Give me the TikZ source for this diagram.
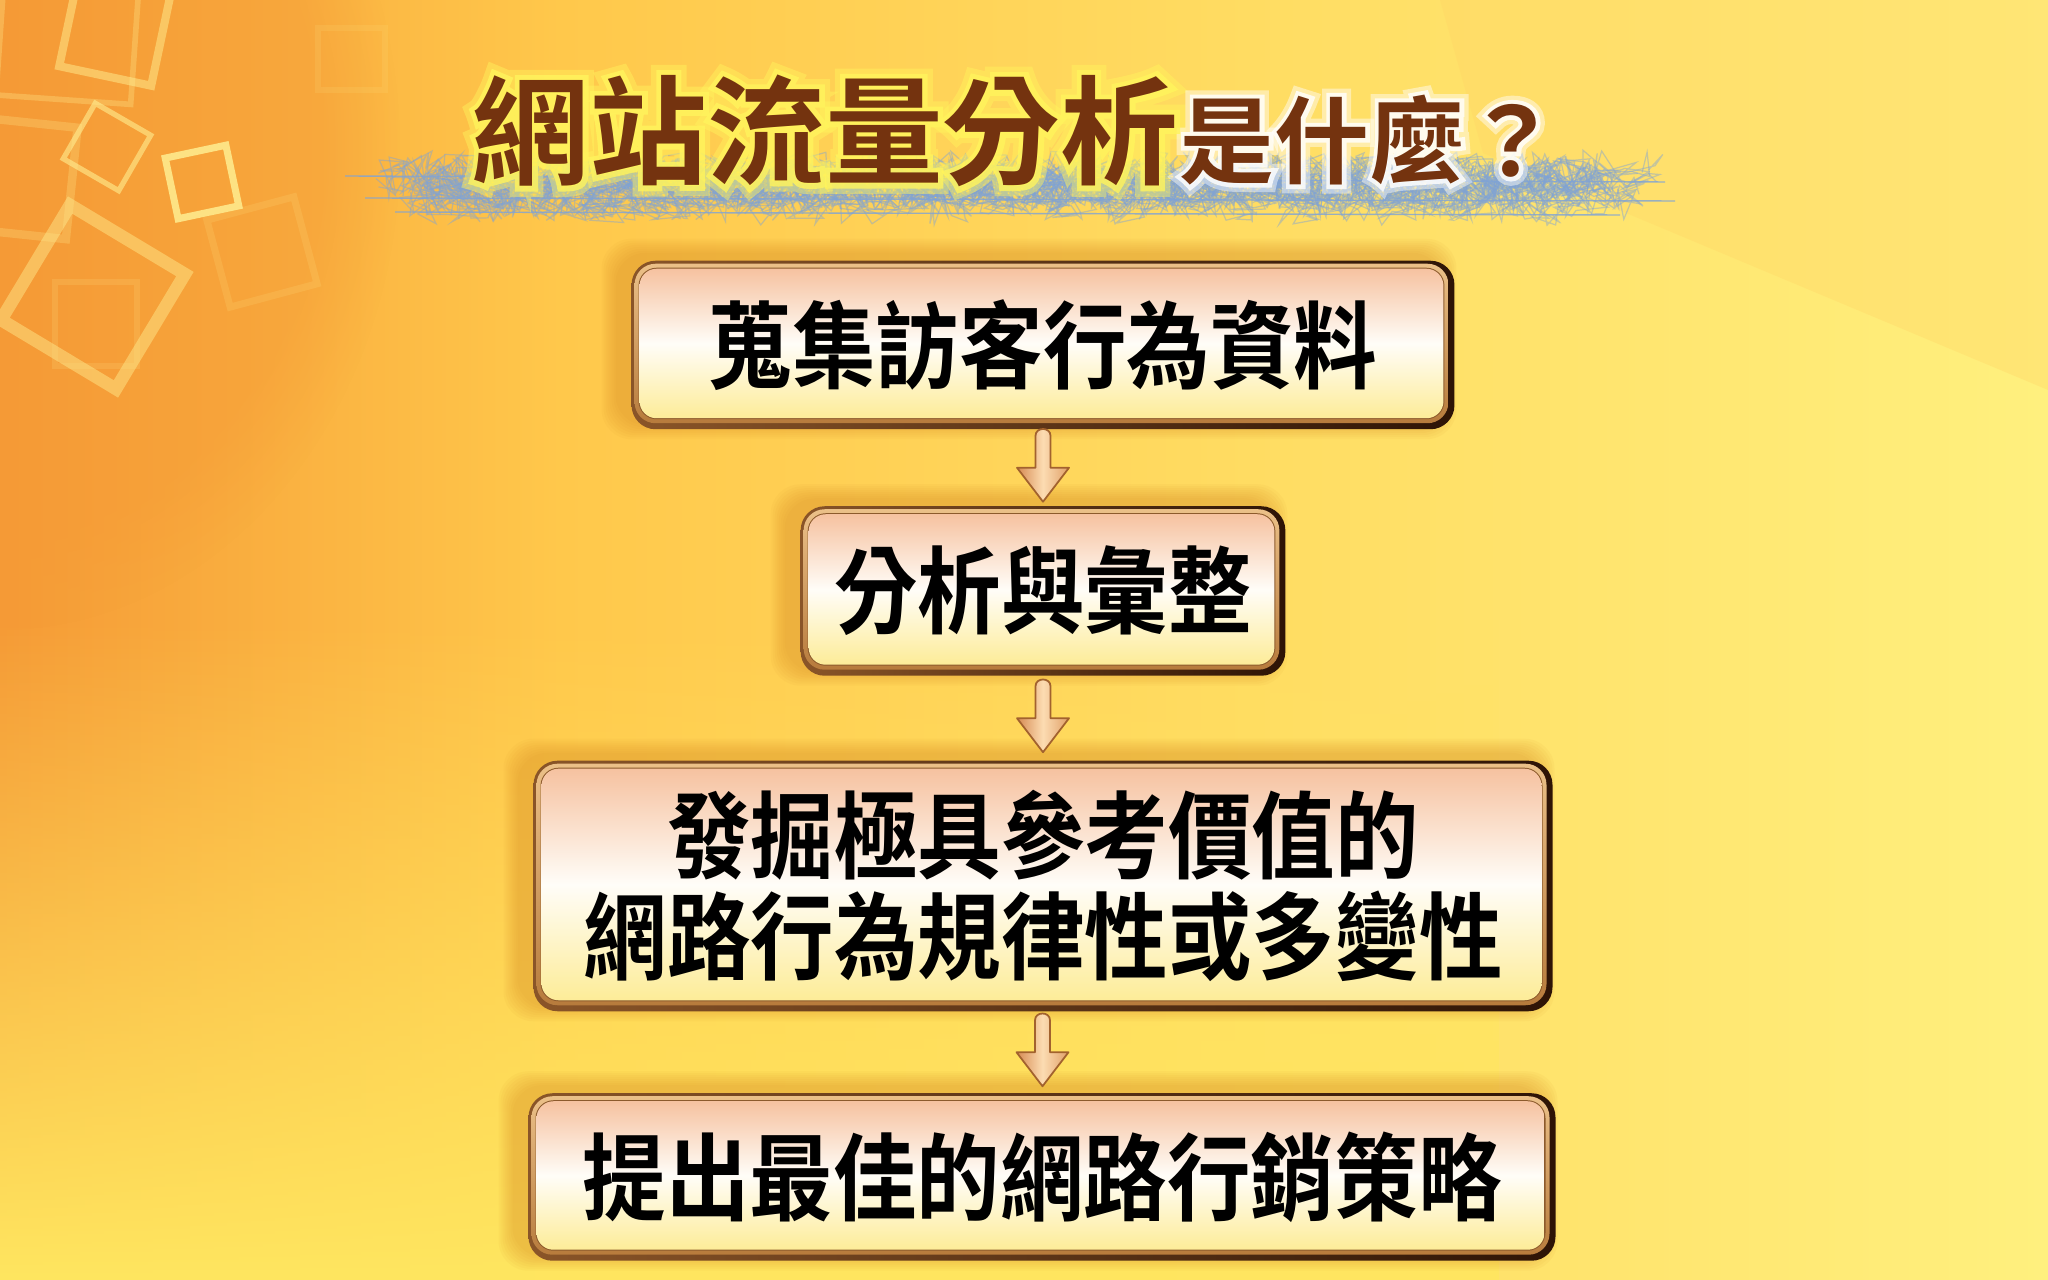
\documentclass[tikz,border=0pt]{standalone}
\usepackage{fontspec}
\newfontfamily\cjkbox[FakeStretch=0.88]{Noto Sans CJK TC Bold}
\newfontfamily\cjkttl{Noto Sans CJK TC Bold}
\newfontfamily\cjkglowA[FakeBold=18]{Noto Sans CJK TC Bold}
\newfontfamily\cjkglowB[FakeBold=9]{Noto Sans CJK TC Bold}
\usetikzlibrary{calc,fadings,decorations.pathmorphing}
\pgfdeclarelayer{bg}
\pgfdeclarelayer{frame}
\pgfsetlayers{bg,frame,main}
\definecolor{bgA}{HTML}{F59A36}
\definecolor{bgB}{HTML}{FFC84B}
\definecolor{bgC}{HTML}{FFDC62}
\definecolor{bgD}{HTML}{FFF07E}
\definecolor{fadeY}{HTML}{FFE660}
\definecolor{trC}{HTML}{FFD565}
\definecolor{sqc}{HTML}{FFEE90}
\definecolor{scribc}{HTML}{7FA3D6}
\definecolor{glowY}{HTML}{FFF45C}
\definecolor{ttlc}{HTML}{74330F}
\definecolor{frL}{HTML}{8A5528}
\definecolor{frR}{HTML}{2E1406}
\definecolor{frRingT}{HTML}{EBC088}
\definecolor{frRingB}{HTML}{B77B3C}
\definecolor{frLine}{HTML}{8C5A2C}
\definecolor{inT}{HTML}{F6C2A0}
\definecolor{inM}{HTML}{FFFDF8}
\definecolor{inB}{HTML}{FDEC98}
\definecolor{shad}{HTML}{D98A22}
\definecolor{arL}{HTML}{D68A52}
\definecolor{arM}{HTML}{FCDCB2}
\definecolor{arR}{HTML}{E0A068}
\definecolor{arO}{HTML}{A2622E}
\tikzset{
  boxn/.style={inner sep=0pt, align=center, text=black,
    font=\cjkbox\fontsize{27}{28.5}\selectfont},
  ttla/.style={inner sep=0pt, anchor=west, font=\cjkttl\fontsize{33.5}{36}\selectfont},
  ttlb/.style={inner sep=0pt, anchor=west, font=\cjkttl\fontsize{27}{30}\selectfont},
  sqline/.style={draw=sqc, line join=miter},
  scrib/.style={draw=scribc, opacity=0.45, line width=0.35pt, decorate,
    decoration={random steps, segment length=1.3pt, amplitude=6pt}},
  darrow/.pic={
    \shade[left color=arL, right color=arR, middle color=arM, draw=arO, line width=0.5pt, line join=round]
      (-7.5,-32) .. controls (-7.5,-41) and (7.5,-41) .. (7.5,-32) -- (7.5,0) -- (26,0) -- (0,34) -- (-26,0) -- (-7.5,0) -- cycle;
  }
}
\newcommand\mkframe[1]{%
  \begin{pgfonlayer}{frame}
    \foreach \k in {0,...,7}{
      \pgfmathsetmacro\e{2*\k+2}
      \fill[shad, opacity=0.06, rounded corners=0.3cm]
        ($(#1.south west)+(-14-\e,-6+\e)$) rectangle ($(#1.north east)+(-14+\e,-6-\e)$);
    }
    \shade[left color=frL, right color=frR, rounded corners=0.24cm]
      (#1.south west) rectangle (#1.north east);
    \shade[top color=frRingT, bottom color=frRingB, rounded corners=0.21cm]
      ($(#1.south west)+(3,-6)$) rectangle ($(#1.north east)+(-6,3)$);
    \fill[frLine, rounded corners=0.18cm]
      ($(#1.south west)+(7,-10)$) rectangle ($(#1.north east)+(-10,7)$);
    \shade[top color=inT, bottom color=inB, middle color=inM, rounded corners=0.17cm]
      ($(#1.south west)+(8,-11)$) rectangle ($(#1.north east)+(-11,8)$);
  \end{pgfonlayer}}
\begin{document}
\begin{tikzpicture}[x=0.01cm, y=-0.01cm]
\useasboundingbox (0,0) rectangle (2048,1280);
\begin{pgfonlayer}{bg}
  \shade[left color=bgA, right color=bgB] (0,0) rectangle (562,1280);
  \shade[left color=bgB, right color=bgC] (560,0) rectangle (1252,1280);
  \shade[left color=bgC, right color=bgD] (1250,0) rectangle (2048,1280);
  \fill[bgA, opacity=0.45, path fading=circle with fuzzy edge 20 percent] (0,150) ellipse [x radius=400, y radius=480];
  \fill[fadeY, path fading=north] (0,620) rectangle (1500,1280);
  \fill[trC, opacity=0.35] (1440,0) -- (2048,0) -- (2048,390) -- (1483,153) -- cycle;
  % decorative squares
  \draw[sqline, line width=2.3pt, opacity=0.5, rotate around={-12:(115,30)}] (68,-17) rectangle (162,77);
  \draw[sqline, line width=1.6pt, opacity=0.3, rotate around={-4:(70,40)}] (0,-35) rectangle (135,100);
  \draw[sqline, line width=1.5pt, opacity=0.6, rotate around={-30:(107,147)}] (75,115) rectangle (139,179);
  \draw[sqline, line width=2pt, opacity=0.85, rotate around={12:(202,182)}] (171,151) rectangle (233,213);
  \draw[sqline, line width=3.6pt, opacity=0.45, rotate around={-31:(93,297)}] (26,230) rectangle (160,364);
  \draw[sqline, line width=2pt, opacity=0.15, rotate around={15:(262,252)}] (217,207) rectangle (307,297);
  \draw[sqline, line width=1.7pt, opacity=0.12] (318,28) rectangle (385,90);
  \draw[sqline, line width=1.7pt, opacity=0.15] (55,282) rectangle (137,366);
  \draw[sqline, line width=2.4pt, opacity=0.25, rotate around={-6:(20,178)}] (-40,122) rectangle (72,234);
  % scribbles
  \pgfmathsetseed{42}
  \foreach \i in {1,...,20}{
    \pgfmathsetmacro\ya{170+36*rnd}
    \pgfmathsetmacro\yb{170+36*rnd}
    \pgfmathsetmacro\xa{370+90*rnd}
    \pgfmathsetmacro\xb{1560+100*rnd}
    \draw[scrib] (\xa,\ya) -- (\xb,\yb);
  }
  \draw[scribc, line width=0.4pt, opacity=0.8] (345,176) -- (1665,182);
  \draw[scribc, line width=0.4pt, opacity=0.8] (365,198) -- (1675,201);
  \draw[scribc, line width=0.4pt, opacity=0.8] (395,212) -- (1620,215);
\end{pgfonlayer}
% title
\coordinate (tp1) at (471,131);
\coordinate (tp2) at (1179,140);
\node[ttla, font=\cjkglowA\fontsize{33.5}{36}\selectfont, text=glowY, opacity=0.45] (ga) at (tp1) {網站流量分析};
\node[ttlb, font=\cjkglowA\fontsize{27}{30}\selectfont, text=white, opacity=0.45] (gb) at (tp2) {是什麼？};
\node[ttla, font=\cjkglowB\fontsize{33.5}{36}\selectfont, text=glowY, opacity=0.8] (ga2) at (tp1) {網站流量分析};
\node[ttlb, font=\cjkglowB\fontsize{27}{30}\selectfont, text=white, opacity=0.8] (gb2) at (tp2) {是什麼？};
\node[ttla, text=ttlc] (t1) at (tp1) {網站流量分析};
\node[ttlb, text=ttlc] (t2) at (tp2) {是什麼？};
% boxes
\node[boxn, minimum width=8.21cm, minimum height=1.67cm] (b1) at (1043,345) {蒐集訪客行為資料};
\node[boxn, minimum width=4.83cm, minimum height=1.68cm] (b2) at (1043,591) {分析與彙整};
\node[boxn, minimum width=10.17cm, minimum height=2.49cm] (b3) at (1043,886) {發掘極具參考價值的\\網路行為規律性或多變性};
\node[boxn, minimum width=10.25cm, minimum height=1.66cm] (b4) at (1042,1177) {提出最佳的網路行銷策略};
\mkframe{b1}
\mkframe{b2}
\mkframe{b3}
\mkframe{b4}
% arrows
\pic (a1) at ($(b1.south)!0.5!(b2.north)$) {darrow};
\pic (a2) at ($(b2.south)!0.5!(b3.north)$) {darrow};
\pic (a3) at ($(b3.south)!0.5!(b4.north)$) {darrow};
\end{tikzpicture}
\end{document}
